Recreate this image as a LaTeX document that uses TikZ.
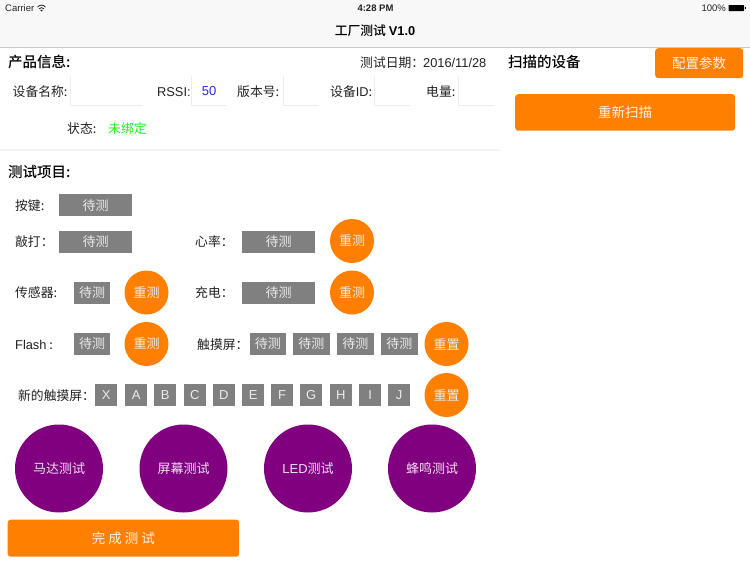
\documentclass[tikz,border=0pt]{standalone}
\usepackage{fontspec}
\setmainfont{Liberation Sans}
\newfontfamily\cj{Noto Sans CJK SC}
\newfontfamily\cjm{Noto Sans CJK SC Medium}[Renderer=OpenType]
\definecolor{orangeb}{HTML}{FF8000}
\definecolor{greyb}{HTML}{808080}
\definecolor{purpb}{HTML}{800080}
\definecolor{barbg}{HTML}{F8F8F8}
\definecolor{barline}{HTML}{C8C8C8}
\definecolor{fieldl}{HTML}{EDEDED}
\definecolor{txt}{HTML}{222222}
\definecolor{greenv}{HTML}{22EE22}
\definecolor{bluev}{HTML}{2A2AE0}
\tikzset{
  lbl/.style={inner sep=0pt,anchor=west,text=txt,text height=10pt,text depth=0pt,font=\fontsize{12.8}{13}\selectfont\cj},
  head/.style={inner sep=0pt,anchor=west,text=black,text height=11pt,text depth=1pt,font=\fontsize{14.5}{15}\selectfont\cjm},
  grey/.style={fill=greyb,text=white!92!black,inner sep=0pt,anchor=north west,font=\fontsize{13}{13}\selectfont\cj},
  orb/.style={circle,fill=orangeb,text=white!92!black,minimum size=44pt,inner sep=0pt,font=\fontsize{13}{13}\selectfont\cj},
  purp/.style={circle,fill=purpb,text=white!88!purpb,minimum size=88pt,inner sep=0pt,font=\fontsize{13}{13}\selectfont\cj},
  btn/.style={fill=orangeb,rounded corners=3pt,text=white!90!orangeb,inner sep=0pt,anchor=north west,font=\fontsize{13.5}{13.5}\selectfont\cj},
  field/.style={draw=fieldl,line width=1pt},
  sbar/.style={inner sep=0pt,text=txt,font=\fontsize{9.5}{9.5}\selectfont}
}
\newcommand{\gbox}[5]{\node[grey,minimum width=#3pt,minimum height=#4pt] at (#1,#2) {#5};}
\begin{document}
\begin{tikzpicture}[x=1pt,y=-1pt]
\useasboundingbox (0,0) rectangle (750,563);
\fill[white] (0,0) rectangle (750,563);
\fill[barbg] (0,0) rectangle (750,47);
\draw[barline,line width=1pt] (0,47.5) -- (750,47.5);
\draw[fieldl!70!white,line width=1.2pt] (0,150) -- (500,150);
% status bar
\node[sbar,anchor=west] (carrier) at (5,8) {Carrier};
\draw[txt,line width=0.8pt] (37.5,7) .. controls (40,4.5) and (43,4.5) .. (45.5,7);
\draw[txt,line width=0.8pt] (39,8.8) .. controls (40.5,7.3) and (42.5,7.3) .. (44,8.8);
\fill[txt] (41.5,11.5) -- (40,9.8) .. controls (41,9.2) and (42,9.2) .. (43,9.8) -- cycle;
\node[sbar,font=\fontsize{9.5}{9.5}\selectfont\bfseries] (clock) at (375.5,8) {4:28 PM};
\node[sbar,anchor=east] (pct) at (726,8) {100\%};
\fill[black,rounded corners=0.6pt] (728.5,5) rectangle (744,11);
\fill[black] (744.5,6.8) rectangle (745.8,9.2);
\node[inner sep=0pt,text=black,font=\fontsize{12.8}{13}\selectfont\cjm] (title) at (375,31) {工厂测试 {\fontspec{Liberation Sans}\bfseries V1.0}};
% product info
\node[head] (prod) at (8,62) {产品信息:};
\node[lbl] (dlabel) at (360,62) {测试日期：};
\node[lbl,font=\fontsize{12.8}{13}\selectfont] (date) at (423,62) {2016/11/28};
\node[lbl] (l1) at (12.5,91) {设备名称:};
\draw[field] (70.5,76) -- (70.5,105.5) -- (143,105.5);
\node[lbl,font=\fontsize{12.8}{13}\selectfont] (l2) at (157,91) {RSSI:};
\draw[field] (191,76) -- (191,105.5) -- (227,105.5);
\node[inner sep=0pt,text=bluev,font=\fontsize{13}{13}\selectfont] (v2) at (209,91) {50};
\node[lbl] (l3) at (237,91) {版本号:};
\draw[field] (283,76) -- (283,105.5) -- (318.5,105.5);
\node[lbl] (l4) at (330,91) {设备{\fontspec{Liberation Sans}ID}:};
\draw[field] (374,76) -- (374,105.5) -- (410,105.5);
\node[lbl] (l5) at (426,91) {电量:};
\draw[field] (458.5,76) -- (458.5,105.5) -- (494,105.5);
\node[lbl] (st) at (67,128) {状态:};
\node[lbl,text=greenv] (stv) at (108,128) {未绑定};
% right
\node[head] (scan) at (508,62) {扫描的设备};
\node[btn,minimum width=88pt,minimum height=30pt] (cfg) at (655,48) {配置参数};
\node[btn,minimum width=220pt,minimum height=36.5pt] (rescan) at (515,94) {重新扫描};
% test items
\node[head] (items) at (8,172) {测试项目:};
\node[lbl] (a1) at (15,205) {按键:};
\gbox{59}{194}{73}{22}{待测}
\node[lbl] (a2) at (15,241) {敲打：};
\gbox{59}{231}{73}{21.5}{待测}
\node[lbl] (a3) at (195,241) {心率：};
\gbox{242}{231}{73}{21.5}{待测}
\node[orb] (r1) at (352,241) {重测};
\node[lbl] (a4) at (15,292) {传感器:};
\gbox{74}{282}{36}{21.5}{待测}
\node[orb] (r2) at (146.5,292.5) {重测};
\node[lbl] (a5) at (195,292) {充电：};
\gbox{242}{282}{73}{21.5}{待测}
\node[orb] (r3) at (352,292.5) {重测};
\node[lbl] (a6) at (15,344) {{\fontspec{Liberation Sans}Flash} :};
\gbox{74}{333}{36}{21.5}{待测}
\node[orb] (r4) at (146.5,344) {重测};
\node[lbl] (a7) at (197,344) {触摸屏：};
\gbox{249.5}{333}{36.5}{21.5}{待测}
\gbox{293}{333}{36.5}{21.5}{待测}
\gbox{337}{333}{36.5}{21.5}{待测}
\gbox{381}{333}{36.5}{21.5}{待测}
\node[orb] (r5) at (446.5,344) {重置};
\node[lbl] (a8) at (18,395) {新的触摸屏：};
\foreach \px/\t in {95/X,125/A,154/B,183.5/C,212.5/D,242/E,271/F,300/G,329.5/H,359/I,388/J}
  \node[grey,minimum width=22pt,minimum height=22pt,font=\fontsize{13}{13}\selectfont] (k\t) at (\px,384) {\t};
\node[orb] (r6) at (446.5,395) {重置};
\node[purp] (p1) at (59,468.5) {马达测试};
\node[purp] (p2) at (183.5,468.5) {屏幕测试};
\node[purp] (p3) at (308,468.5) {{\fontspec{Liberation Sans}LED}测试};
\node[purp] (p4) at (432,468.5) {蜂鸣测试};
\node[btn,minimum width=231.5pt,minimum height=37pt] (done) at (7.5,519.5) {完 成 测 试};
\end{tikzpicture}
\end{document}
